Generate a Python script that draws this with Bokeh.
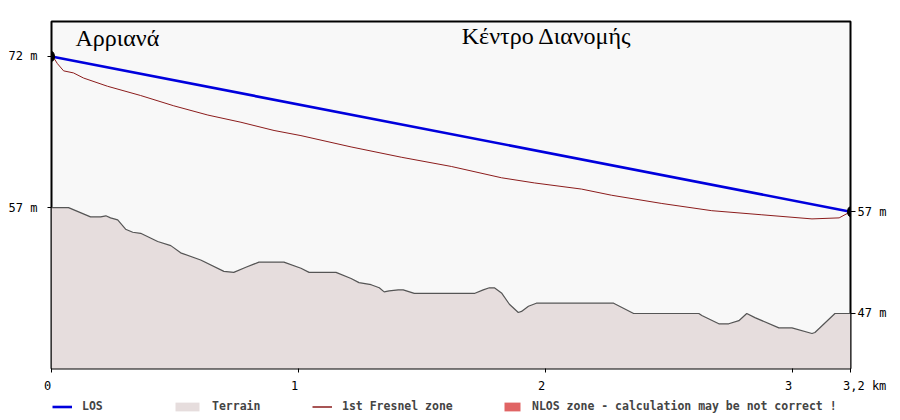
from bokeh.plotting import figure
from bokeh.layouts import column
from bokeh.models import (Range1d, LinearAxis, FixedTicker, Legend, LegendItem, Label)
from bokeh.core.properties import value
from bokeh.embed import file_html
from bokeh.resources import INLINE

# ---- data ----
site_names = ["Αρριανά", "Κέντρο Διανομής"]
dist_end = 3.235  # km
los_km = [0.0, dist_end]
los_m = [72.0, 56.9]

terrain_km = [0.0, 0.069, 0.158, 0.199, 0.22, 0.239, 0.268, 0.300, 0.329, 0.361, 0.430,
              0.483, 0.523, 0.604, 0.698, 0.738, 0.787, 0.840, 0.941, 1.010, 1.043,
              1.152, 1.213, 1.245, 1.294, 1.327, 1.347, 1.367, 1.404, 1.424, 1.469,
              1.712, 1.748, 1.773, 1.793, 1.822, 1.854, 1.890, 1.903, 1.931, 1.963,
              2.227, 2.276, 2.357, 2.552, 2.621, 2.633, 2.702, 2.742, 2.783, 2.815,
              2.848, 2.945, 2.998, 3.079, 3.091, 3.172, 3.235]
terrain_m = [57.3, 57.3, 56.4, 56.4, 56.5, 56.3, 56.1, 55.2, 54.9, 54.8, 54.0,
             53.6, 52.9, 52.2, 51.1, 51.0, 51.5, 52.0, 52.0, 51.4, 51.0,
             51.0, 50.4, 50.0, 49.8, 49.5, 49.1, 49.2, 49.3, 49.3, 48.95,
             48.95, 49.3, 49.5, 49.5, 49.0, 47.9, 47.1, 47.2, 47.7, 48.0,
             48.0, 48.0, 47.0, 47.0, 47.0, 46.8, 46.0, 46.0, 46.3, 47.0,
             46.6, 45.6, 45.6, 45.05, 45.15, 47.0, 47.0]

fresnel_km = [0.0, 0.008, 0.024, 0.049, 0.089, 0.130, 0.227, 0.361, 0.495, 0.633,
              0.767, 0.901, 1.010, 1.213, 1.416, 1.619, 1.822, 1.955, 2.146, 2.268,
              2.471, 2.673, 2.876, 3.079, 3.189, 3.235]
fresnel_m = [72.0, 71.9, 71.3, 70.6, 70.4, 69.9, 69.1, 68.2, 67.2, 66.3,
             65.6, 64.8, 64.3, 63.2, 62.2, 61.3, 60.2, 59.7, 59.1, 58.5,
             57.7, 57.0, 56.6, 56.2, 56.3, 56.9]

# no NLOS zone on this path (only shown in the legend)
nlos_km = []
nlos_lo = []
nlos_hi = []

x_ticks = [0, 1, 2, 3, dist_end]
x_tick_labels = ["0", "1", "2", "3", "3,2 km"]
left_ticks = [los_m[0], terrain_m[0]]
right_ticks = [los_m[-1], terrain_m[-1]]

legend_labels = ["LOS", "Terrain", "1st Fresnel zone",
                 "NLOS zone - calculation may be not correct !"]

# ---- styles / layout ----
Y_BOTTOM, Y_TOP = 41.65, 75.40
MONO = "DejaVu Sans Mono"
W = 900
BL, BR = 51, 50
FRAME_W = W - BL - BR
PX_PER_KM = FRAME_W / dist_end
C_LOS, C_FRES, C_TERR_F, C_TERR_L, C_NLOS = "#0000dd", "#8b1c1c", "#e6dddd", "#555555", "#e06464"

p = figure(width=W, height=373, output_backend="svg", toolbar_location=None,
           x_range=Range1d(0, dist_end), y_range=Range1d(Y_BOTTOM, Y_TOP),
           min_border_left=BL, min_border_right=BR, min_border_top=21, min_border_bottom=5,
           background_fill_color="#f8f8f8", border_fill_color="white",
           outline_line_color="black", outline_line_width=2, frame_align=False)
p.xgrid.visible = False
p.ygrid.visible = False
p.xaxis.visible = False
p.yaxis.visible = False

p.varea(x=terrain_km, y1=[Y_BOTTOM - 5] * len(terrain_km), y2=terrain_m, fill_color=C_TERR_F)
p.line(terrain_km, terrain_m, line_color=C_TERR_L, line_width=1.2)
p.line(fresnel_km, fresnel_m, line_color=C_FRES, line_width=1)
p.line(los_km, los_m, line_color=C_LOS, line_width=2.6)
p.varea(x=nlos_km, y1=nlos_lo, y2=nlos_hi, fill_color=C_NLOS)
p.ellipse(x=los_km, y=los_m, width=6, height=10, width_units="screen",
          height_units="screen", fill_color="black", line_color="black")


def style_axis(ax, ticks, labels, tick_out, standoff, size="12px"):
    ax.ticker = FixedTicker(ticks=list(ticks))
    ax.major_label_overrides = {float(t): l for t, l in zip(ticks, labels)}
    ax.axis_line_color = None
    ax.major_tick_out = tick_out
    ax.major_tick_in = 0
    ax.minor_tick_line_color = None
    ax.major_tick_line_color = "black"
    ax.major_label_text_font = MONO
    ax.major_label_text_font_size = size
    ax.major_label_text_color = "black"
    ax.major_label_standoff = standoff


bottom = LinearAxis()
style_axis(bottom, x_ticks, [""] * len(x_ticks), 4, 0, size="0px")
p.add_layout(bottom, "below")

left = LinearAxis()
style_axis(left, left_ticks, [f"{round(v)} m" for v in left_ticks], 4, 10)
p.add_layout(left, "left")

right = LinearAxis()
style_axis(right, right_ticks, [f"{round(v)} m" for v in right_ticks], 5, 2)
p.add_layout(right, "right")

p.add_layout(Label(x=0.097, y=73.75, text=site_names[0], text_font="Liberation Serif",
                   text_font_size="24px", text_baseline="alphabetic", text_color="black"))
p.add_layout(Label(x=1.661, y=74.0, text=site_names[1], text_font="Liberation Serif",
                   text_font_size="24px", text_baseline="alphabetic", text_color="black"))

# ---- lower strip: x tick labels and legend ----
p2 = figure(width=W, height=47, output_backend="svg", toolbar_location=None,
            x_range=Range1d(-BL / PX_PER_KM, (W - BL) / PX_PER_KM), y_range=Range1d(-47, 0),
            min_border=0, min_border_left=0, min_border_right=0, min_border_top=0,
            min_border_bottom=0, background_fill_color="white", border_fill_color="white",
            outline_line_color=None, frame_align=False)
p2.xaxis.visible = False
p2.yaxis.visible = False
p2.xgrid.visible = False
p2.ygrid.visible = False

p2.text(x=x_ticks, y=[-12] * len(x_ticks), text=x_tick_labels, text_align="left",
        x_offset=-7.5, text_baseline="middle", text_font=value(MONO),
        text_font_size=value("12px"), text_color="black")

# legend renderers (their data lies outside this strip's range, so only the swatches show)
l_los = p2.line(los_km, los_m, line_color=C_LOS, line_width=2.6)
l_terr = p2.varea(x=terrain_km, y1=terrain_m, y2=terrain_m, fill_color=C_TERR_F)
l_fres = p2.line(fresnel_km, fresnel_m, line_color=C_FRES, line_width=1.5)
l_nlos = p2.varea(x=los_km, y1=los_m, y2=los_m, fill_color=C_NLOS)

leg_specs = [(l_los, legend_labels[0], 52, 20), (l_terr, legend_labels[1], 172, 30),
             (l_fres, legend_labels[2], 312, 20), (l_nlos, legend_labels[3], 502, 20)]
for rend, lab, vx, gw in leg_specs:
    lg = Legend(items=[LegendItem(label=lab, renderers=[rend])], location=(vx, 7),
                orientation="horizontal", padding=0, margin=0, border_line_color=None,
                background_fill_alpha=0, glyph_width=gw, glyph_height=11, label_height=11,
                label_standoff=10, label_text_font=MONO, label_text_font_style="bold",
                label_text_font_size="11.5px", label_text_baseline="middle")
    p2.add_layout(lg, "center")

layout = column(p, p2, spacing=0)
open("out.html", "w").write(file_html(layout, INLINE))
